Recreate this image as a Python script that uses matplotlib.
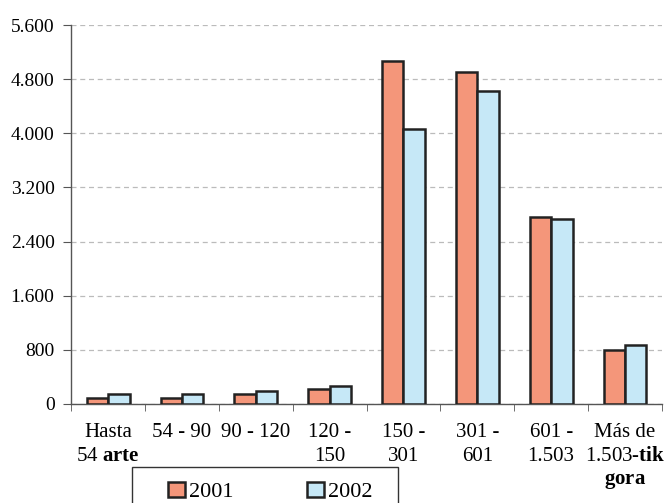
import numpy as np
import matplotlib.pyplot as plt
from matplotlib.patches import Rectangle

categories = ['Hasta\n54 $\\mathbf{arte}$', '54 - 90', '90 - 120', '120 -\n150',
              '150 -\n301', '301 -\n601', '601 -\n1.503', 'Más de\n1.503-$\\mathbf{tik}$\n$\\mathbf{gora}$']
values_2001 = [84, 82, 150, 222, 5070, 4900, 2765, 795]
values_2002 = [153, 153, 192, 266, 4060, 4620, 2730, 867]
yticks = [0, 800, 1600, 2400, 3200, 4000, 4800, 5600]
ytick_labels = ['0', '800', '1.600', '2.400', '3.200', '4.000', '4.800', '5.600']

plt.rcParams['font.family'] = 'Liberation Serif'
plt.rcParams['mathtext.fontset'] = 'custom'
plt.rcParams['mathtext.rm'] = 'Liberation Serif'
plt.rcParams['mathtext.bf'] = 'Liberation Serif:bold'

fig = plt.figure(figsize=(6.72, 5.03), dpi=100)
ax = fig.add_axes([0.106, 0.197, 0.879, 0.753])

x = np.arange(len(categories))
w = 0.29
ax.bar(x - w / 2, values_2001, w, color='#F4967A', edgecolor='#222222', linewidth=1.8, label='2001', zorder=3)
ax.bar(x + w / 2, values_2002, w, color='#C6E8F7', edgecolor='#222222', linewidth=1.8, label='2002', zorder=3)

ax.set_xlim(-0.5, len(categories) - 0.5)
ax.set_ylim(0, 5600)
ax.set_yticks(yticks)
ax.set_yticklabels(ytick_labels, fontsize=14)
ax.yaxis.grid(True, linestyle=(0, (4, 3)), color='#bbbbbb', linewidth=0.9)
ax.set_axisbelow(True)

ax.set_xticks(x)
ax.set_xticklabels(categories, fontsize=15, linespacing=1.3)
ax.tick_params(axis='x', length=0, pad=14)
ax.set_xticks(np.arange(-0.5, len(categories), 1), minor=True)
ax.tick_params(axis='x', which='minor', length=5, direction='out', color='#555555')
ax.tick_params(axis='y', length=6, pad=6, direction='out', color='#555555')

for s in ['top', 'right']:
    ax.spines[s].set_visible(False)
for s in ['left', 'bottom']:
    ax.spines[s].set_color('#555555')
    ax.spines[s].set_linewidth(1.0)

# legend entries without frame, box drawn separately (it runs off the bottom)
leg = fig.legend(loc='upper left', bbox_to_anchor=(168 / 672, 21 / 503),
                 ncol=2, fontsize=16, handlelength=0.75, handleheight=0.65,
                 handletextpad=0.2, columnspacing=3.3, borderpad=0, borderaxespad=0,
                 frameon=False)
for h in leg.legend_handles:
    h.set_linewidth(1.8)
fig.add_artist(Rectangle((132 / 672, -0.05), 266 / 672, 0.05 + 36 / 503,
                         transform=fig.transFigure, fill=False,
                         edgecolor='#333333', linewidth=1.0))

fig.savefig('out.png', dpi=100)
